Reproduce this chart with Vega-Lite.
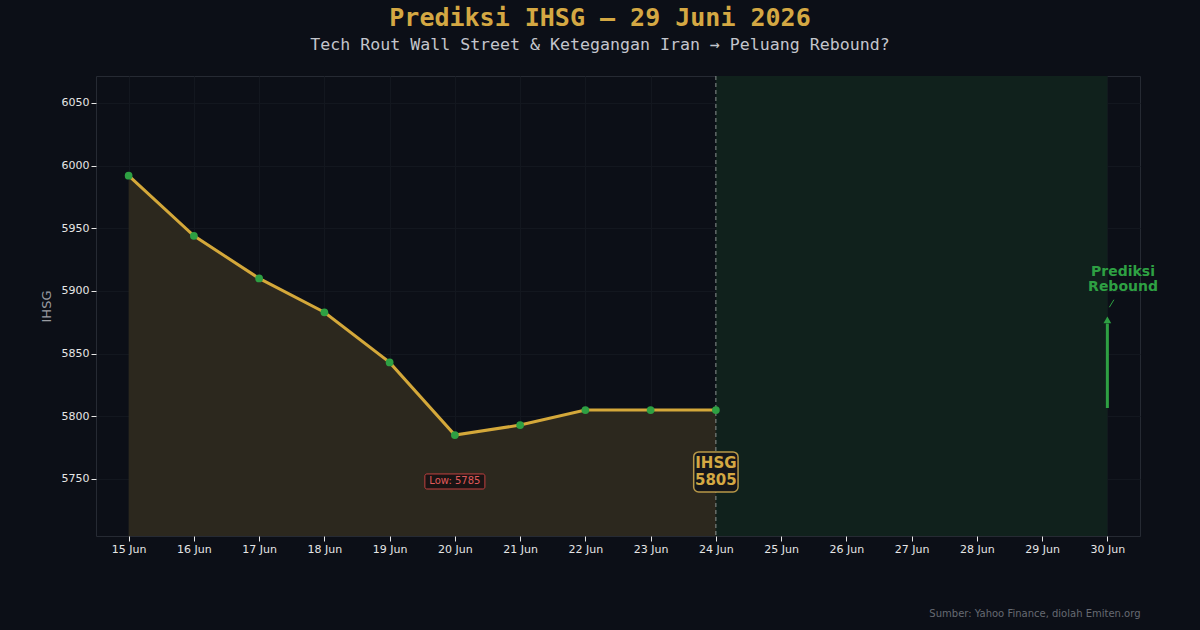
{
  "$schema": "https://vega.github.io/schema/vega-lite/v6.json",
  "autosize": "none",
  "width": 1044,
  "height": 460,
  "padding": {"left": 96, "top": 76, "right": 60, "bottom": 94},
  "background": "#0c0f17",
  "title": {
    "text": "Prediksi IHSG — 29 Juni 2026",
    "subtitle": "Tech Rout Wall Street & Ketegangan Iran → Peluang Rebound?",
    "anchor": "middle",
    "frame": "group",
    "dx": -18,
    "offset": 22,
    "font": "DejaVu Sans Mono",
    "fontSize": 25,
    "fontWeight": "bold",
    "color": "#d4a843",
    "subtitleFont": "DejaVu Sans Mono",
    "subtitleFontSize": 16.6,
    "subtitleColor": "#c3c5cc",
    "subtitlePadding": 6
  },
  "config": {
    "view": {"stroke": "#262a33", "fill": "#0c0f17"},
    "axis": {
      "labelFont": "DejaVu Sans",
      "labelFontSize": 11,
      "labelColor": "#e6e6e6",
      "tickColor": "#e6e6e6",
      "tickSize": 5,
      "domain": false,
      "gridColor": "#13171f",
      "gridWidth": 1,
      "titleFont": "DejaVu Sans"
    }
  },
  "datasets": {
    "ihsg": [
      {"day": 15, "value": 5992},
      {"day": 16, "value": 5944},
      {"day": 17, "value": 5910},
      {"day": 18, "value": 5883},
      {"day": 19, "value": 5843},
      {"day": 20, "value": 5785},
      {"day": 21, "value": 5793},
      {"day": 22, "value": 5805},
      {"day": 23, "value": 5805},
      {"day": 24, "value": 5805}
    ]
  },
  "layer": [
    {
      "data": {"values": [{"x": 24, "x2": 30, "y": 5704.5, "y2": 6071.5}]},
      "mark": {"type": "rect", "color": "#10211c"},
      "encoding": {
        "x": {
          "field": "x", "type": "quantitative",
          "scale": {"domain": [14.5, 30.5], "nice": false, "zero": false},
          "axis": {
            "values": [15,16,17,18,19,20,21,22,23,24,25,26,27,28,29,30],
            "labelExpr": "datum.value + ' Jun'",
            "grid": true,
            "title": "Sumber: Yahoo Finance, diolah Emiten.org",
            "titleAnchor": "end",
            "titleAlign": "right",
            "titleFontSize": 10,
            "titleFontWeight": "normal",
            "titleColor": "#666a72",
            "titlePadding": 54
          }
        },
        "x2": {"field": "x2"},
        "y": {
          "field": "y", "type": "quantitative",
          "scale": {"domain": [5704.5, 6071.5], "nice": false, "zero": false},
          "axis": {
            "values": [5750, 5800, 5850, 5900, 5950, 6000, 6050],
            "format": "d",
            "grid": true,
            "title": "IHSG",
            "titleColor": "#9a9ca2",
            "titleFontSize": 13,
            "titleFontWeight": "normal",
            "titlePadding": 8
          }
        },
        "y2": {"field": "y2"}
      }
    },
    {
      "data": {"name": "ihsg"},
      "mark": {"type": "area", "color": "#2c281e"},
      "encoding": {
        "x": {"field": "day", "type": "quantitative"},
        "y": {"field": "value", "type": "quantitative"},
        "y2": {"datum": 5704.5}
      }
    },
    {
      "data": {"values": [{"day": 24}]},
      "mark": {"type": "rule", "color": "#8a9290", "strokeDash": [4, 3], "strokeWidth": 1},
      "encoding": {"x": {"field": "day", "type": "quantitative"}}
    },
    {
      "data": {"name": "ihsg"},
      "mark": {"type": "line", "color": "#d4a83a", "strokeWidth": 3},
      "encoding": {
        "x": {"field": "day", "type": "quantitative"},
        "y": {"field": "value", "type": "quantitative"}
      }
    },
    {
      "data": {"name": "ihsg"},
      "mark": {"type": "circle", "color": "#2ea043", "size": 60, "opacity": 1},
      "encoding": {
        "x": {"field": "day", "type": "quantitative"},
        "y": {"field": "value", "type": "quantitative"}
      }
    },
    {
      "data": {"values": [{"x": 19.54, "x2": 20.46, "y": 5742, "y2": 5754}]},
      "mark": {"type": "rect", "fill": "#1a1414", "stroke": "#c04040", "strokeWidth": 1, "cornerRadius": 2},
      "encoding": {
        "x": {"field": "x", "type": "quantitative"},
        "x2": {"field": "x2"},
        "y": {"field": "y", "type": "quantitative"},
        "y2": {"field": "y2"}
      }
    },
    {
      "data": {"values": [{"x": 20, "y": 5748, "label": "Low: 5785"}]},
      "mark": {"type": "text", "color": "#e05a5a", "font": "DejaVu Sans", "fontSize": 10, "align": "center", "baseline": "middle"},
      "encoding": {
        "x": {"field": "x", "type": "quantitative"},
        "y": {"field": "y", "type": "quantitative"},
        "text": {"field": "label"}
      }
    },
    {
      "data": {"values": [{"x": 23.66, "x2": 24.34, "y": 5739.6, "y2": 5771.6}]},
      "mark": {"type": "rect", "fill": "#15161a", "stroke": "#b89848", "strokeWidth": 1.5, "cornerRadius": 5},
      "encoding": {
        "x": {"field": "x", "type": "quantitative"},
        "x2": {"field": "x2"},
        "y": {"field": "y", "type": "quantitative"},
        "y2": {"field": "y2"}
      }
    },
    {
      "data": {"values": [{"x": 24, "y": 5762.5, "label": "IHSG"}, {"x": 24, "y": 5749, "label": "5805"}]},
      "mark": {"type": "text", "color": "#d4a843", "font": "DejaVu Sans", "fontSize": 15, "fontWeight": "bold", "align": "center", "baseline": "middle"},
      "encoding": {
        "x": {"field": "x", "type": "quantitative"},
        "y": {"field": "y", "type": "quantitative"},
        "text": {"field": "label"}
      }
    },
    {
      "data": {"values": [{"x": 30, "y": 5806.6, "y2": 5874}]},
      "mark": {"type": "rule", "color": "#2ea043", "strokeWidth": 3},
      "encoding": {
        "x": {"field": "x", "type": "quantitative"},
        "y": {"field": "y", "type": "quantitative"},
        "y2": {"field": "y2"}
      }
    },
    {
      "data": {"values": [{"x": 30, "y": 5877}]},
      "mark": {"type": "point", "shape": "triangle-up", "filled": true, "color": "#2ea043", "size": 60, "opacity": 1},
      "encoding": {
        "x": {"field": "x", "type": "quantitative"},
        "y": {"field": "y", "type": "quantitative"}
      }
    },
    {
      "data": {"values": [{"x": 30.03, "x2": 30.1, "y": 5887, "y2": 5893}]},
      "mark": {"type": "rule", "color": "#2ea043", "strokeWidth": 1},
      "encoding": {
        "x": {"field": "x", "type": "quantitative"},
        "x2": {"field": "x2"},
        "y": {"field": "y", "type": "quantitative"},
        "y2": {"field": "y2"}
      }
    },
    {
      "data": {"values": [{"x": 30.24, "y": 5915.5, "label": "Prediksi"}, {"x": 30.24, "y": 5903.5, "label": "Rebound"}]},
      "mark": {"type": "text", "color": "#2ea043", "font": "DejaVu Sans", "fontSize": 14, "fontWeight": "bold", "align": "center", "baseline": "middle"},
      "encoding": {
        "x": {"field": "x", "type": "quantitative"},
        "y": {"field": "y", "type": "quantitative"},
        "text": {"field": "label"}
      }
    }
  ]
}
